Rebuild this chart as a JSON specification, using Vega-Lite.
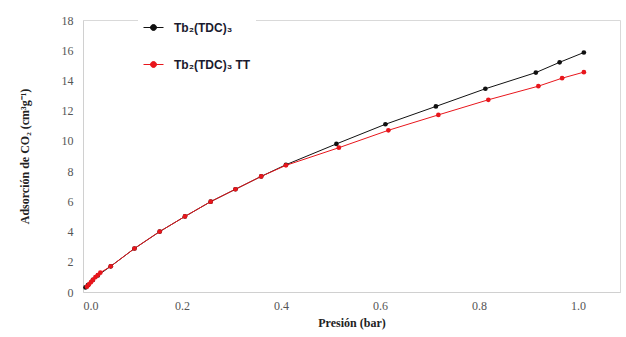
{
  "$schema": "https://vega.github.io/schema/vega-lite/v6.json",
  "width": 537,
  "height": 272,
  "autosize": "none",
  "padding": {"left": 83, "top": 20, "right": 6, "bottom": 45},
  "background": "white",
  "config": {
    "view": {"stroke": "#d9d9d9", "strokeWidth": 1},
    "axis": {
      "grid": false,
      "domainColor": "#d0d0d0",
      "ticks": false,
      "labelFont": "Liberation Serif",
      "labelFontSize": 12,
      "labelColor": "#555555",
      "titleFont": "Liberation Serif",
      "titleFontSize": 12,
      "titleFontWeight": "bold",
      "titleColor": "#222222"
    }
  },
  "data": {
    "values": [
      {"p": 0.005, "q": 0.30, "s": "Tb₂(TDC)₃"},
      {"p": 0.010, "q": 0.45, "s": "Tb₂(TDC)₃"},
      {"p": 0.020, "q": 0.80, "s": "Tb₂(TDC)₃"},
      {"p": 0.030, "q": 1.10, "s": "Tb₂(TDC)₃"},
      {"p": 0.056, "q": 1.70, "s": "Tb₂(TDC)₃"},
      {"p": 0.104, "q": 2.88, "s": "Tb₂(TDC)₃"},
      {"p": 0.155, "q": 4.00, "s": "Tb₂(TDC)₃"},
      {"p": 0.206, "q": 5.00, "s": "Tb₂(TDC)₃"},
      {"p": 0.258, "q": 5.98, "s": "Tb₂(TDC)₃"},
      {"p": 0.308, "q": 6.80, "s": "Tb₂(TDC)₃"},
      {"p": 0.360, "q": 7.65, "s": "Tb₂(TDC)₃"},
      {"p": 0.410, "q": 8.42, "s": "Tb₂(TDC)₃"},
      {"p": 0.512, "q": 9.80, "s": "Tb₂(TDC)₃"},
      {"p": 0.611, "q": 11.10, "s": "Tb₂(TDC)₃"},
      {"p": 0.713, "q": 12.28, "s": "Tb₂(TDC)₃"},
      {"p": 0.813, "q": 13.45, "s": "Tb₂(TDC)₃"},
      {"p": 0.915, "q": 14.52, "s": "Tb₂(TDC)₃"},
      {"p": 0.963, "q": 15.20, "s": "Tb₂(TDC)₃"},
      {"p": 1.012, "q": 15.85, "s": "Tb₂(TDC)₃"},
      {"p": 0.008, "q": 0.35, "s": "Tb₂(TDC)₃ TT"},
      {"p": 0.012, "q": 0.50, "s": "Tb₂(TDC)₃ TT"},
      {"p": 0.016, "q": 0.65, "s": "Tb₂(TDC)₃ TT"},
      {"p": 0.020, "q": 0.80, "s": "Tb₂(TDC)₃ TT"},
      {"p": 0.025, "q": 0.98, "s": "Tb₂(TDC)₃ TT"},
      {"p": 0.030, "q": 1.12, "s": "Tb₂(TDC)₃ TT"},
      {"p": 0.035, "q": 1.28, "s": "Tb₂(TDC)₃ TT"},
      {"p": 0.056, "q": 1.70, "s": "Tb₂(TDC)₃ TT"},
      {"p": 0.104, "q": 2.88, "s": "Tb₂(TDC)₃ TT"},
      {"p": 0.155, "q": 4.00, "s": "Tb₂(TDC)₃ TT"},
      {"p": 0.206, "q": 5.00, "s": "Tb₂(TDC)₃ TT"},
      {"p": 0.258, "q": 5.98, "s": "Tb₂(TDC)₃ TT"},
      {"p": 0.308, "q": 6.80, "s": "Tb₂(TDC)₃ TT"},
      {"p": 0.360, "q": 7.65, "s": "Tb₂(TDC)₃ TT"},
      {"p": 0.410, "q": 8.38, "s": "Tb₂(TDC)₃ TT"},
      {"p": 0.517, "q": 9.55, "s": "Tb₂(TDC)₃ TT"},
      {"p": 0.617, "q": 10.70, "s": "Tb₂(TDC)₃ TT"},
      {"p": 0.718, "q": 11.72, "s": "Tb₂(TDC)₃ TT"},
      {"p": 0.819, "q": 12.72, "s": "Tb₂(TDC)₃ TT"},
      {"p": 0.920, "q": 13.62, "s": "Tb₂(TDC)₃ TT"},
      {"p": 0.968, "q": 14.15, "s": "Tb₂(TDC)₃ TT"},
      {"p": 1.012, "q": 14.55, "s": "Tb₂(TDC)₃ TT"}
    ]
  },
  "mark": {"type": "line", "strokeWidth": 1, "point": {"filled": true, "size": 22}},
  "encoding": {
    "x": {
      "field": "p", "type": "quantitative",
      "scale": {"domain": [0, 1.085], "nice": false, "zero": false},
      "axis": {"values": [0, 0.2, 0.4, 0.6, 0.8, 1.0], "format": ".1f", "title": "Presión (bar)", "labelPadding": 8, "titlePadding": 6}
    },
    "y": {
      "field": "q", "type": "quantitative",
      "scale": {"domain": [0, 18], "nice": false},
      "axis": {"values": [0, 2, 4, 6, 8, 10, 12, 14, 16, 18], "title": "Adsorción de CO₂ (cm³g⁻¹)", "labelPadding": 10, "titlePadding": 30}
    },
    "color": {
      "field": "s", "type": "nominal",
      "scale": {"domain": ["Tb₂(TDC)₃", "Tb₂(TDC)₃ TT"], "range": ["#111111", "#e8161c"]},
      "legend": {
        "title": null,
        "orient": "none",
        "legendX": 55,
        "legendY": -8,
        "fillColor": "white",
        "padding": 5,
        "symbolType": "M-1,0L1,0M-0.3,0A0.3,0.3,0,1,1,0.3,0A0.3,0.3,0,1,1,-0.3,0Z",
        "symbolSize": 400,
        "symbolStrokeWidth": 1,
        "labelFont": "Liberation Sans",
        "labelFontSize": 12,
        "labelFontWeight": "bold",
        "labelColor": "#1a1a2e",
        "labelOffset": 10,
        "rowPadding": 20,
        "encode": {"symbols": {"update": {"fill": {"scale": "color", "field": "value"}}}}
      }
    }
  }
}
